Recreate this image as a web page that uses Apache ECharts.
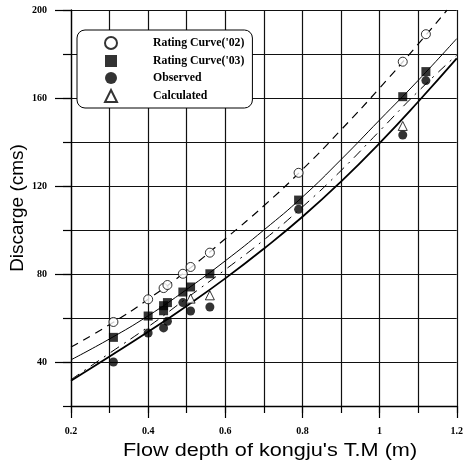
<!DOCTYPE html>
<html>
<head>
<meta charset="utf-8">
<script src="https://cdn.jsdelivr.net/npm/echarts@6/dist/echarts.min.js"></script>
<style>html,body{margin:0;padding:0;background:#fff;}#c{width:466px;height:464px;}</style>
</head>
<body>
<div id="c"></div>
<script>
// ---- data ----
const curveX = [0.2, 0.3, 0.4, 0.5, 0.6, 0.7, 0.8, 0.9, 1.0, 1.1, 1.2];
const dashed02X = [0.2, 0.3, 0.4, 0.5, 0.6, 0.7, 0.8, 0.9, 1.0, 1.1, 1.175];
const dashed02Y = [46.8, 57, 68.5, 81.5, 96, 111, 127.5, 145.5, 164.5, 184.5, 200];
const solid03Y = [41, 50.5, 61, 73, 86, 100, 115, 132, 150, 168, 187];
const solidLowY = [31.5, 42.5, 53.7, 65.5, 78, 91.5, 106, 122, 139.5, 158.3, 178];
const dashDotY = [32, 44, 56, 69, 82, 95.5, 110.5, 127, 145, 163, 179.5];

const rc02X = [0.31, 0.40, 0.44, 0.45, 0.49, 0.51, 0.56, 0.79, 1.06, 1.12];
const rc02Y = [58.2, 68.5, 73.6, 75, 80.1, 83.2, 89.7, 126, 176.5, 189];
const rc03X = [0.31, 0.40, 0.44, 0.44, 0.45, 0.49, 0.51, 0.56, 0.79, 1.06, 1.12];
const rc03Y = [51.2, 60.9, 63.3, 65.6, 67, 71.8, 74.1, 80.1, 113.6, 160.6, 172];
const obsX = [0.31, 0.40, 0.44, 0.45, 0.49, 0.51, 0.56, 0.79, 1.06, 1.12];
const obsY = [40, 53.2, 55.5, 58.5, 67, 63.2, 65, 109.4, 143.2, 167.9];
const calcX = [0.51, 0.56, 1.06];
const calcY = [68.8, 70.3, 147.3];

const yMajor = [40, 80, 120, 160, 200];
const names = ["Rating Curve('02)", "Rating Curve('03)", "Observed", "Calculated"];
const xTitle = "Flow depth of kongju's T.M (m)";
const yTitle = 'Discarge (cms)';

const zip = (xs, ys) => xs.map((x, i) => [x, ys[i]]);

const serifLbl = {fontFamily: 'Liberation Serif', fontWeight: 'bold', fontSize: 10, color: '#000'};
const gridLine = {show: true, lineStyle: {color: '#111', width: 1.2}};

const chart = echarts.init(document.getElementById('c'), null, {renderer: 'canvas'});
chart.setOption({
  animation: false,
  backgroundColor: '#fff',
  grid: {left: 66, right: 8, top: 10, bottom: 58},
  legend: {
    data: names,
    orient: 'vertical',
    left: 77, top: 30,
    padding: [6, 8, 5, 27],
    itemGap: 5,
    itemWidth: 12, itemHeight: 12,
    backgroundColor: '#fff',
    borderColor: '#000', borderWidth: 1, borderRadius: 8,
    textStyle: {fontFamily: 'Liberation Serif', fontWeight: 'bold', fontSize: 11.8, color: '#000', padding: [0, 0, 0, 31]}
  },
  graphic: [
    {type: 'text', x: 270, y: 451, scaleX: 1.14, silent: true,
     style: {text: xTitle, font: '19px "Liberation Sans"', fill: '#000', textAlign: 'center', textVerticalAlign: 'middle'}}
  ],
  xAxis: [
    {type: 'value', min: 0.2, max: 1.2, interval: 0.1, position: 'bottom',
     axisLine: {show: true, onZero: false, lineStyle: {color: '#000', width: 1.3}},
     axisTick: {show: true, length: 7, lineStyle: {color: '#000', width: 1.2}},
     axisLabel: {show: false},
     splitLine: gridLine},
    {type: 'value', min: 0.2, max: 1.2, interval: 0.2, position: 'bottom',
     axisLine: {show: false, onZero: false},
     axisTick: {show: true, length: 12, lineStyle: {color: '#000', width: 1.2}},
     axisLabel: Object.assign({margin: 20}, serifLbl),
     splitLine: {show: false}}
  ],
  yAxis: [
    {type: 'value', min: 20, max: 200, interval: 20, position: 'left',
     axisLine: {show: true, onZero: false, lineStyle: {color: '#000', width: 1.3}},
     axisTick: {show: true, length: 8, lineStyle: {color: '#000', width: 1.2}},
     axisLabel: {show: false},
     splitLine: gridLine,
     name: yTitle, nameLocation: 'middle', nameGap: 44,
     nameTextStyle: {fontFamily: 'Liberation Sans', fontSize: 19, color: '#000'}},
    {type: 'value', min: 20, max: 200, interval: 20, position: 'left',
     axisLine: {show: false, onZero: false},
     axisTick: {show: true, length: 16, customValues: yMajor, lineStyle: {color: '#000', width: 1.2}},
     axisLabel: Object.assign({margin: 24, customValues: yMajor}, serifLbl),
     splitLine: {show: false}}
  ],
  series: [
    {name: 'c02', type: 'line', data: zip(dashed02X, dashed02Y), smooth: 0.5, symbol: 'none',
     lineStyle: {color: '#000', width: 1.2, type: [8, 6]}, z: 2},
    {name: 'c03', type: 'line', data: zip(curveX, solid03Y), smooth: 0.5, symbol: 'none',
     lineStyle: {color: '#000', width: 1}, z: 2},
    {name: 'cLow', type: 'line', data: zip(curveX, solidLowY), smooth: 0.5, symbol: 'none',
     lineStyle: {color: '#000', width: 1.8}, z: 2},
    {name: 'cDash', type: 'line', data: zip(curveX, dashDotY), smooth: 0.5, symbol: 'none',
     lineStyle: {color: '#000', width: 1, type: [10, 6, 2, 6]}, z: 2},
    {name: names[0], type: 'scatter', data: zip(rc02X, rc02Y), symbol: 'circle', symbolSize: 9,
     itemStyle: {color: '#fff', borderColor: '#000', borderWidth: 1}, z: 5},
    {name: names[1], type: 'scatter', data: zip(rc03X, rc03Y), symbol: 'rect', symbolSize: 9,
     itemStyle: {color: '#000'}, z: 5},
    {name: names[2], type: 'scatter', data: zip(obsX, obsY), symbol: 'circle', symbolSize: 9,
     itemStyle: {color: '#000'}, z: 5},
    {name: names[3], type: 'scatter', data: zip(calcX, calcY), symbol: 'triangle', symbolSize: 9,
     itemStyle: {color: '#fff', borderColor: '#000', borderWidth: 1}, z: 6}
  ]
});
</script>
</body>
</html>
